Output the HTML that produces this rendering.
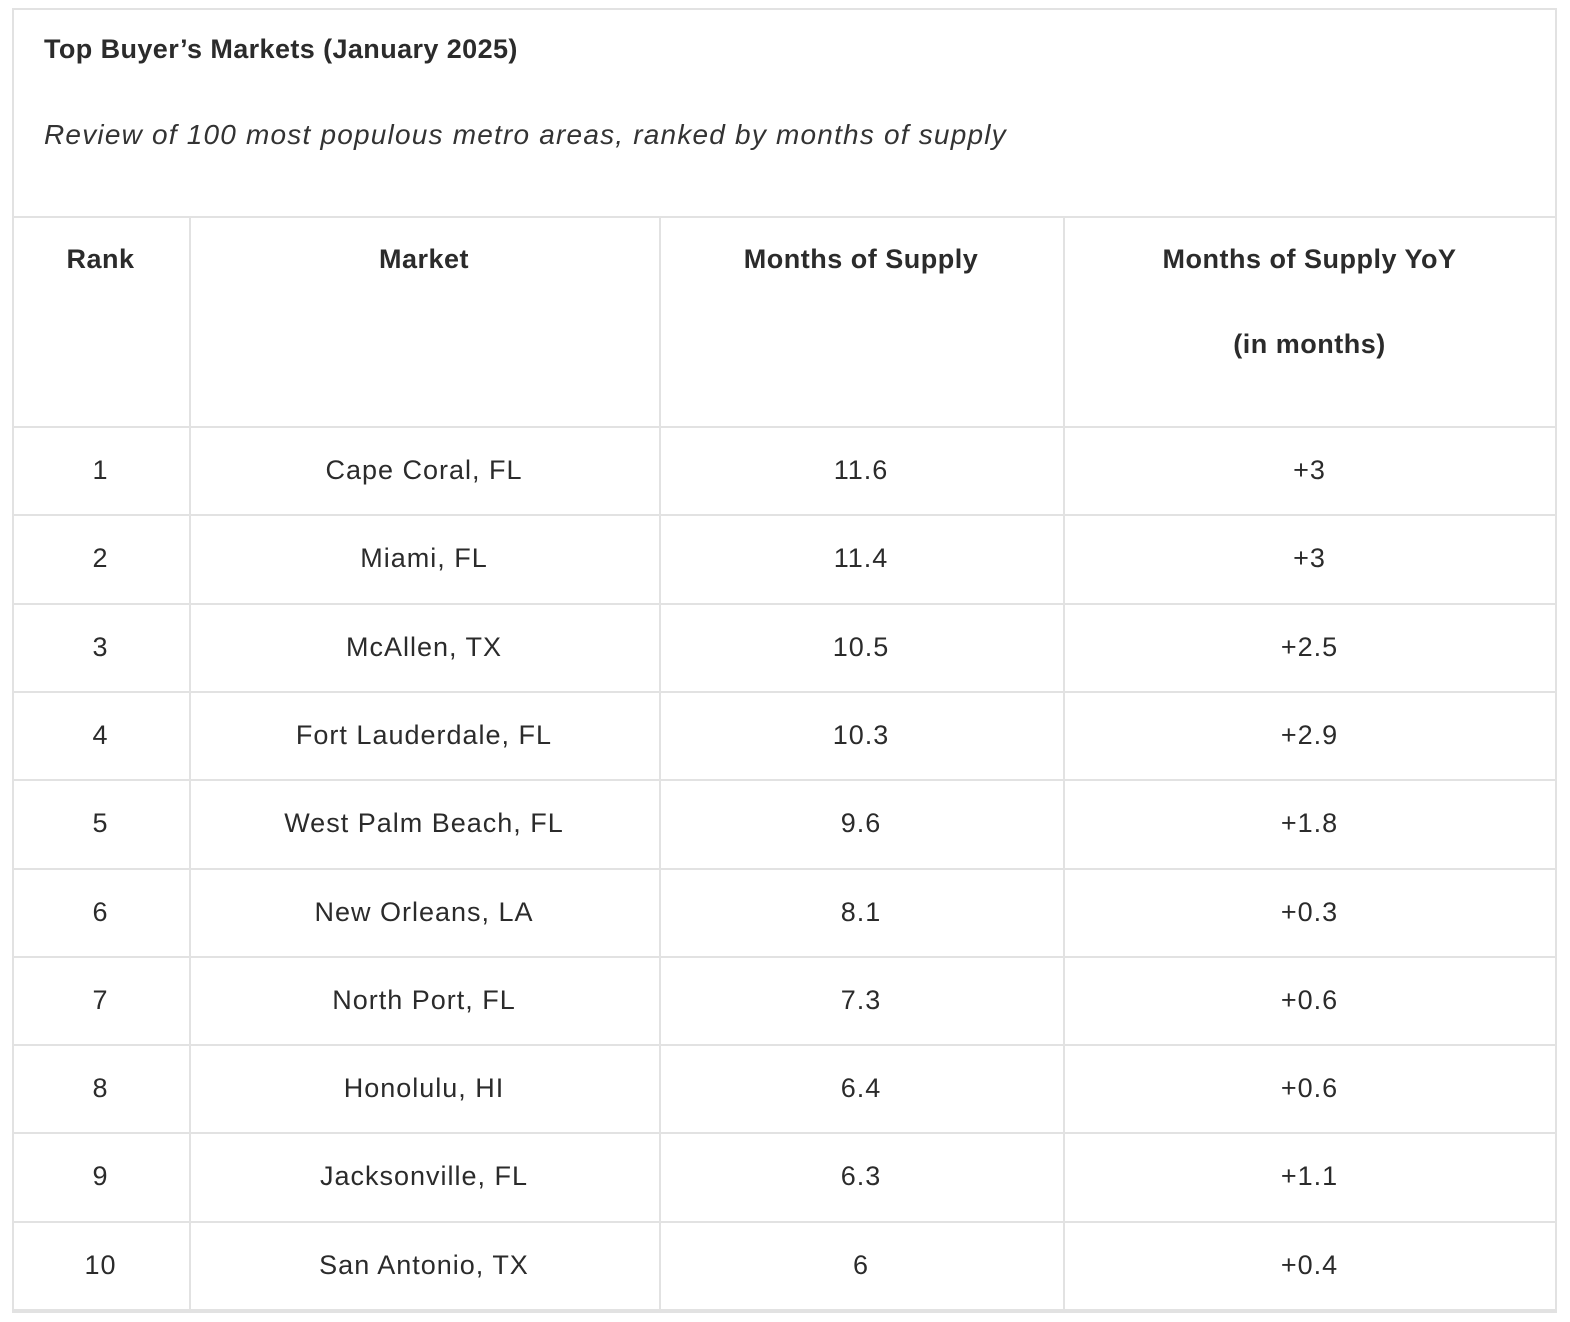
<!DOCTYPE html>
<html><head><meta charset="utf-8"><style>
body{margin:0;background:#fff;width:1570px;height:1322px;position:relative;font-family:"Liberation Sans",sans-serif;color:#2b2b2b;overflow:hidden}
.box{position:absolute;left:12px;top:8px;width:1541px;height:1301px;border:2px solid #e2e2e2}
.t{position:absolute;left:44px;top:34px;font-size:27px;font-weight:bold;letter-spacing:0.4px}
.s{position:absolute;left:44px;top:119px;font-size:28px;font-style:italic;letter-spacing:1.2px;color:#333}
.h{position:absolute;height:2px;background:#e2e2e2;left:12px;width:1545px}
.v{position:absolute;width:2px;background:#e2e2e2;top:216px;height:1094px}
.c{position:absolute;text-align:center;font-size:27px;letter-spacing:1px}
.hd{font-weight:bold;letter-spacing:0.5px}
</style></head><body>
<div class="box"></div>
<div class="t">Top Buyer’s Markets (January 2025)</div>
<div class="s">Review of 100 most populous metro areas, ranked by months of supply</div>
<div id="tbl"></div>
<script>
const ranks=["1","2","3","4","5","6","7","8","9","10"];
const markets=["Cape Coral, FL","Miami, FL","McAllen, TX","Fort Lauderdale, FL","West Palm Beach, FL","New Orleans, LA","North Port, FL","Honolulu, HI","Jacksonville, FL","San Antonio, TX"];
const supply=["11.6","11.4","10.5","10.3","9.6","8.1","7.3","6.4","6.3","6"];
const yoy=["+3","+3","+2.5","+2.9","+1.8","+0.3","+0.6","+0.6","+1.1","+0.4"];
const colX=[12,189,659,1063,1556];
const headers=["Rank","Market","Months of Supply","Months of Supply YoY"];
const root=document.getElementById('tbl');
function line(cls,style){const d=document.createElement('div');d.className=cls;d.style.cssText=style;


root.appendChild(d);}
line('h','top:216px');
const rowTop=427,rowH=88.3;
for(let i=0;i<=ranks.length;i++)line('h','top:'+(rowTop+i*rowH-1)+'px');
for(let j=1;j<4;j++)line('v','left:'+(colX[j])+'px');
function cell(txt,j,y,cls,name){const d=document.createElement('div');d.className='c '+(cls||'');
d.style.left=colX[j]+'px';d.style.width=(colX[j+1]-colX[j])+'px';d.style.top=y+'px';d.textContent=txt;


root.appendChild(d);}
headers.forEach((h,j)=>cell(h,j,244,'hd','column-header'));
cell('(in months)',3,329,'hd','column-header-note');
for(let i=0;i<ranks.length;i++){
 const y=rowTop+i*rowH+28;
 cell(ranks[i],0,y,'','rank-cell');
 cell(markets[i],1,y,'','market-cell');
 cell(supply[i],2,y,'','supply-cell');
 cell(yoy[i],3,y,'','yoy-cell');
}
</script>
</body></html>
